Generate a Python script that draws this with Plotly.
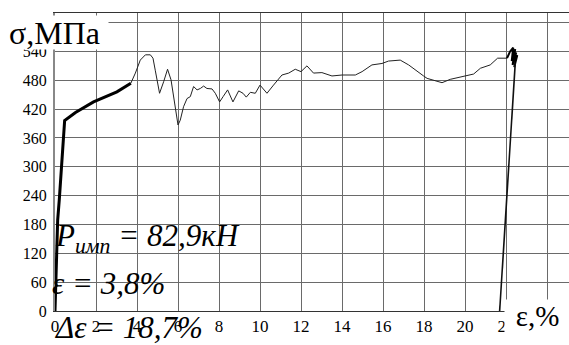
import plotly.graph_objects as go

# ---- data ----
strain_load = [0, 0.04, 0.09, 0.13, 0.21, 0.31, 0.41, 0.47, 1.0, 1.88, 3.02, 3.70]
stress_load = [0, 80, 150, 189, 232, 293, 356, 396, 413, 435, 456, 474]

strain_flow = [3.70, 3.92, 4.16, 4.41, 4.65, 4.78, 4.89, 5.10, 5.30, 5.49, 5.66, 5.82,
               6.00, 6.11, 6.27, 6.44, 6.60, 6.76, 6.93, 7.09, 7.25, 7.41, 7.66, 7.82,
               8.03, 8.20, 8.42, 8.68, 8.96, 9.17, 9.33, 9.53, 9.77, 10.00, 10.34, 10.66,
               11.07, 11.40, 11.72, 12.00, 12.29, 12.61, 13.02, 13.51, 14.00, 14.65, 14.98,
               15.46, 15.95, 16.27, 16.84, 17.25, 17.58, 17.98, 18.15, 18.55, 18.88, 19.28,
               19.93, 20.42, 20.75, 21.23, 21.59, 22.05]
stress_flow = [474, 495, 522, 533, 533, 526, 501, 453, 477, 503, 481, 439,
               387, 397, 425, 442, 446, 467, 460, 463, 468, 463, 462, 453,
               435, 446, 460, 435, 458, 453, 445, 455, 453, 470, 453, 470,
               491, 495, 503, 498, 510, 495, 496, 489, 491, 491, 498,
               512, 515, 520, 522, 512, 501, 489, 484, 479, 475, 482,
               489, 493, 505, 512, 526, 526]

strain_peak = [22.05, 22.20, 22.35, 22.28, 22.45, 22.32, 22.50, 22.38, 22.55, 22.40, 22.48, 22.42, 22.45]
stress_peak = [526, 540, 548, 520, 545, 512, 538, 525, 532, 507, 522, 515, 515]

strain_unload = [22.45, 21.69]
stress_unload = [515, 0]

x_ticks = [0, 2, 4, 6, 8, 10, 12, 14, 16, 18, 20, 22, 24]
y_ticks = [0, 60, 120, 180, 240, 300, 360, 420, 480, 540, 600]

# ---- figure ----
W, H = 569, 345
ML, MR, MT, MB = 55, 0, 13, 34
PW, PH = W - ML - MR, H - MT - MB


def px(x):
    return (x - ML) / PW


def py(y):
    return (H - MB - y) / PH


fig = go.Figure()
fig.add_trace(go.Scatter(x=strain_load, y=stress_load, mode="lines",
                         line=dict(color="#000000", width=3), hoverinfo="skip"))
fig.add_trace(go.Scatter(x=strain_flow, y=stress_flow, mode="lines",
                         line=dict(color="#222222", width=1), hoverinfo="skip"))
fig.add_trace(go.Scatter(x=strain_peak, y=stress_peak, mode="lines",
                         line=dict(color="#000000", width=2), hoverinfo="skip"))
fig.add_trace(go.Scatter(x=strain_unload, y=stress_unload, mode="lines",
                         line=dict(color="#111111", width=1.6), hoverinfo="skip"))

serif = "Liberation Serif, Times New Roman, serif"

fig.update_layout(
    width=W, height=H,
    margin=dict(l=ML, r=MR, t=MT, b=MB, autoexpand=False),
    paper_bgcolor="white", plot_bgcolor="white",
    showlegend=False,
    font=dict(family=serif, color="black"),
    xaxis=dict(range=[0, PW / 20.5], tickvals=x_ticks, ticktext=[str(v) for v in x_ticks],
               showgrid=True, gridcolor="#6a6a6a", gridwidth=1,
               showline=True, linecolor="#333333", linewidth=1, mirror=True,
               zeroline=False, ticks="", tickfont=dict(family=serif, size=17, color="black")),
    yaxis=dict(range=[0, 620], tickvals=y_ticks, ticktext=[str(v) for v in y_ticks],
               showgrid=True, gridcolor="#6a6a6a", gridwidth=1,
               showline=True, linecolor="#888888", linewidth=2,
               zeroline=False, ticks="", ticklabelstandoff=3,
               tickfont=dict(family=serif, size=16, color="black")),
)

# axis title boxes
fig.add_annotation(xref="paper", yref="paper", x=px(8), y=py(15), xanchor="left", yanchor="top",
                   text="σ,МПа", showarrow=False, bgcolor="white", width=99, height=33,
                   align="left", valign="middle", borderpad=0,
                   font=dict(family=serif, size=32, color="black"))
fig.add_annotation(xref="paper", yref="paper", x=px(504), y=py(299), xanchor="left", yanchor="top",
                   text="ε,%", showarrow=False, bgcolor="white", width=65, height=46,
                   align="center", valign="top", borderpad=0,
                   font=dict(family=serif, size=29, color="black"))

# in-plot texts
fig.add_annotation(xref="paper", yref="paper", x=px(53), y=py(238), xanchor="left", yanchor="middle",
                   text="<i>P</i><sub><i>имп</i></sub><i> = 82,9кН</i>", showarrow=False,
                   font=dict(family=serif, size=31, color="black"))
fig.add_annotation(xref="paper", yref="paper", x=px(50), y=py(283), xanchor="left", yanchor="middle",
                   text="<i>ε = 3,8%</i>", showarrow=False,
                   font=dict(family=serif, size=31, color="black"))
fig.add_annotation(xref="paper", yref="paper", x=px(52), y=py(327), xanchor="left", yanchor="middle",
                   text="<i>Δε = 18,7%</i>", showarrow=False,
                   font=dict(family=serif, size=31, color="black"))

fig.write_html("out.html", config={"displayModeBar": False},
               post_script="document.body.style.margin='0';document.body.style.padding='0';")
